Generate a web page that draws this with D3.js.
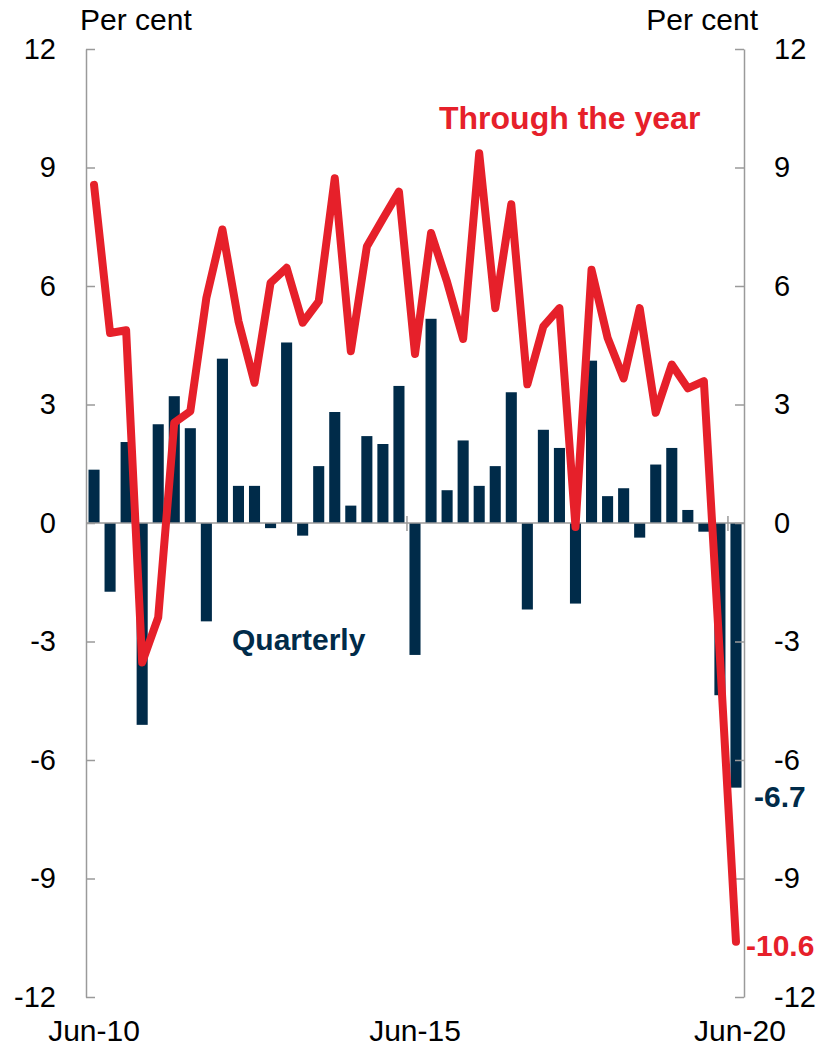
<!DOCTYPE html>
<html>
<head>
<meta charset="utf-8">
<script src="https://cdn.jsdelivr.net/npm/d3@7"></script>
<style>
  body { margin: 0; background: #fff; }
  text { font-family: "Liberation Sans", Arial, sans-serif; }
</style>
</head>
<body>
<div id="chart"></div>
<script>
// Data
var quarters = ["Jun-10","Sep-10","Dec-10","Mar-11","Jun-11","Sep-11","Dec-11","Mar-12",
    "Jun-12","Sep-12","Dec-12","Mar-13","Jun-13","Sep-13","Dec-13","Mar-14",
    "Jun-14","Sep-14","Dec-14","Mar-15","Jun-15","Sep-15","Dec-15","Mar-16",
    "Jun-16","Sep-16","Dec-16","Mar-17","Jun-17","Sep-17","Dec-17","Mar-18",
    "Jun-18","Sep-18","Dec-18","Mar-19","Jun-19","Sep-19","Dec-19","Mar-20","Jun-20"];

var quarterly = [1.35, -1.74, 2.05, -5.11, 2.50, 3.21, 2.40, -2.49,
    4.16, 0.94, 0.94, -0.13, 4.57, -0.32, 1.44, 2.81,
    0.44, 2.20, 2.00, 3.47, -3.34, 5.17, 0.83, 2.09,
    0.94, 1.44, 3.31, -2.19, 2.36, 1.90, -2.04, 4.11,
    0.68, 0.88, -0.37, 1.48, 1.90, 0.33, -0.22, -4.36, -6.7];

var throughYear = [8.56, 4.81, 4.88, -3.53, -2.39, 2.54, 2.83, 5.70,
    7.43, 5.11, 3.55, 6.08, 6.46, 5.07, 5.61, 8.73,
    4.35, 7.00, 7.70, 8.39, 4.28, 7.34, 6.10, 4.66,
    9.36, 5.44, 8.07, 3.51, 4.98, 5.44, -0.10, 6.41,
    4.69, 3.66, 5.44, 2.79, 4.01, 3.41, 3.59, -3.40, -10.6];

var yTicks = [-12, -9, -6, -3, 0, 3, 6, 9, 12];
var xLabels = ["Jun-10", "Jun-15", "Jun-20"];
var xTickMarks = ["Jun-15", "Jun-20"];

// Chart params
var svgWidth = 821;
var svgHeight = 1050;
var margin = { top: 49, right: 77, bottom: 53, left: 86 };
var width = svgWidth - margin.left - margin.right;
var height = svgHeight - margin.top - margin.bottom;

var navy = "#002b49";
var red = "#e6202a";
var grey = "#9a9a9a";

var svg = d3.select("#chart")
    .append("svg")
    .attr("width", svgWidth)
    .attr("height", svgHeight);

var chartGroup = svg.append("g")
    .attr("transform", `translate(${margin.left}, ${margin.top})`);

var x = d3.scaleBand()
    .domain(quarters)
    .range([0, width])
    .paddingInner(0.31)
    .paddingOuter(0.155);

var y = d3.scaleLinear()
    .domain([-12, 12])
    .range([height, 0]);

var cx = d => x(d) + x.bandwidth() / 2;

// bars
chartGroup.selectAll("rect.bar")
    .data(quarters)
    .enter()
    .append("rect")
    .attr("class", "bar")
    .attr("x", d => x(d))
    .attr("width", x.bandwidth())
    .attr("y", (d, i) => y(Math.max(0, quarterly[i])))
    .attr("height", (d, i) => Math.abs(y(quarterly[i]) - y(0)))
    .attr("fill", navy);

// zero line
chartGroup.append("line")
    .attr("x1", 0)
    .attr("x2", width)
    .attr("y1", y(0))
    .attr("y2", y(0))
    .attr("stroke", grey)
    .attr("stroke-width", 1.5);

// small x ticks on the zero line
chartGroup.selectAll("line.xtick")
    .data(xTickMarks)
    .enter()
    .append("line")
    .attr("class", "xtick")
    .attr("x1", d => x(d) - (x.step() - x.bandwidth()) / 2)
    .attr("x2", d => x(d) - (x.step() - x.bandwidth()) / 2)
    .attr("y1", y(0) - 7)
    .attr("y2", y(0) + 8)
    .attr("stroke", grey)
    .attr("stroke-width", 1.5);

// axes (plain hyphen minus, like the reference)
var fmt = d => String(d);
var leftAxis = d3.axisLeft(y).tickValues(yTicks).tickFormat(fmt)
    .tickSizeInner(-9).tickSizeOuter(0).tickPadding(30);
var rightAxis = d3.axisRight(y).tickValues(yTicks).tickFormat(fmt)
    .tickSizeInner(-9).tickSizeOuter(0).tickPadding(30);

var gl = chartGroup.append("g").call(leftAxis);
var gr = chartGroup.append("g")
    .attr("transform", `translate(${width}, 0)`)
    .call(rightAxis);

[gl, gr].forEach(function(g) {
    g.select(".domain").attr("stroke", grey).attr("stroke-width", 1.5);
    g.selectAll(".tick line").attr("stroke", grey).attr("stroke-width", 1.5);
    g.selectAll(".tick text")
        .attr("font-size", "29px")
        .attr("fill", "#000")
        .attr("font-family", "Liberation Sans, Arial, sans-serif");
});

// through the year line
var line = d3.line()
    .x((d, i) => cx(quarters[i]))
    .y(d => y(d));

chartGroup.append("path")
    .datum(throughYear)
    .attr("d", line)
    .attr("fill", "none")
    .attr("stroke", red)
    .attr("stroke-width", 8)
    .attr("stroke-linejoin", "round")
    .attr("stroke-linecap", "round");

// x labels
chartGroup.selectAll("text.xlab")
    .data(xLabels)
    .enter()
    .append("text")
    .attr("class", "xlab")
    .attr("x", (d, i) => cx(d) + (i == 2 ? 4 : 0))
    .attr("y", height + 44)
    .attr("text-anchor", "middle")
    .attr("font-size", "30px")
    .text(d => d);

// unit labels
svg.append("text")
    .attr("x", 80)
    .attr("y", 30)
    .attr("font-size", "30px")
    .text("Per cent");
svg.append("text")
    .attr("x", 758)
    .attr("y", 30)
    .attr("text-anchor", "end")
    .attr("font-size", "30px")
    .text("Per cent");

// series labels
svg.append("text")
    .attr("x", 439)
    .attr("y", 129)
    .attr("font-size", "32px")
    .attr("font-weight", "bold")
    .attr("fill", red)
    .text("Through the year");
svg.append("text")
    .attr("x", 232)
    .attr("y", 650)
    .attr("font-size", "30px")
    .attr("font-weight", "bold")
    .attr("fill", navy)
    .text("Quarterly");

// end values
var last = quarters.length - 1;
chartGroup.append("text")
    .attr("x", width + 10)
    .attr("y", y(quarterly[last]) + 19)
    .attr("font-size", "30px")
    .attr("font-weight", "bold")
    .attr("fill", navy)
    .text(quarterly[last].toFixed(1));
chartGroup.append("text")
    .attr("x", width + 2)
    .attr("y", y(throughYear[last]) + 14)
    .attr("font-size", "30px")
    .attr("font-weight", "bold")
    .attr("fill", red)
    .text(throughYear[last].toFixed(1));
</script>
</body>
</html>
